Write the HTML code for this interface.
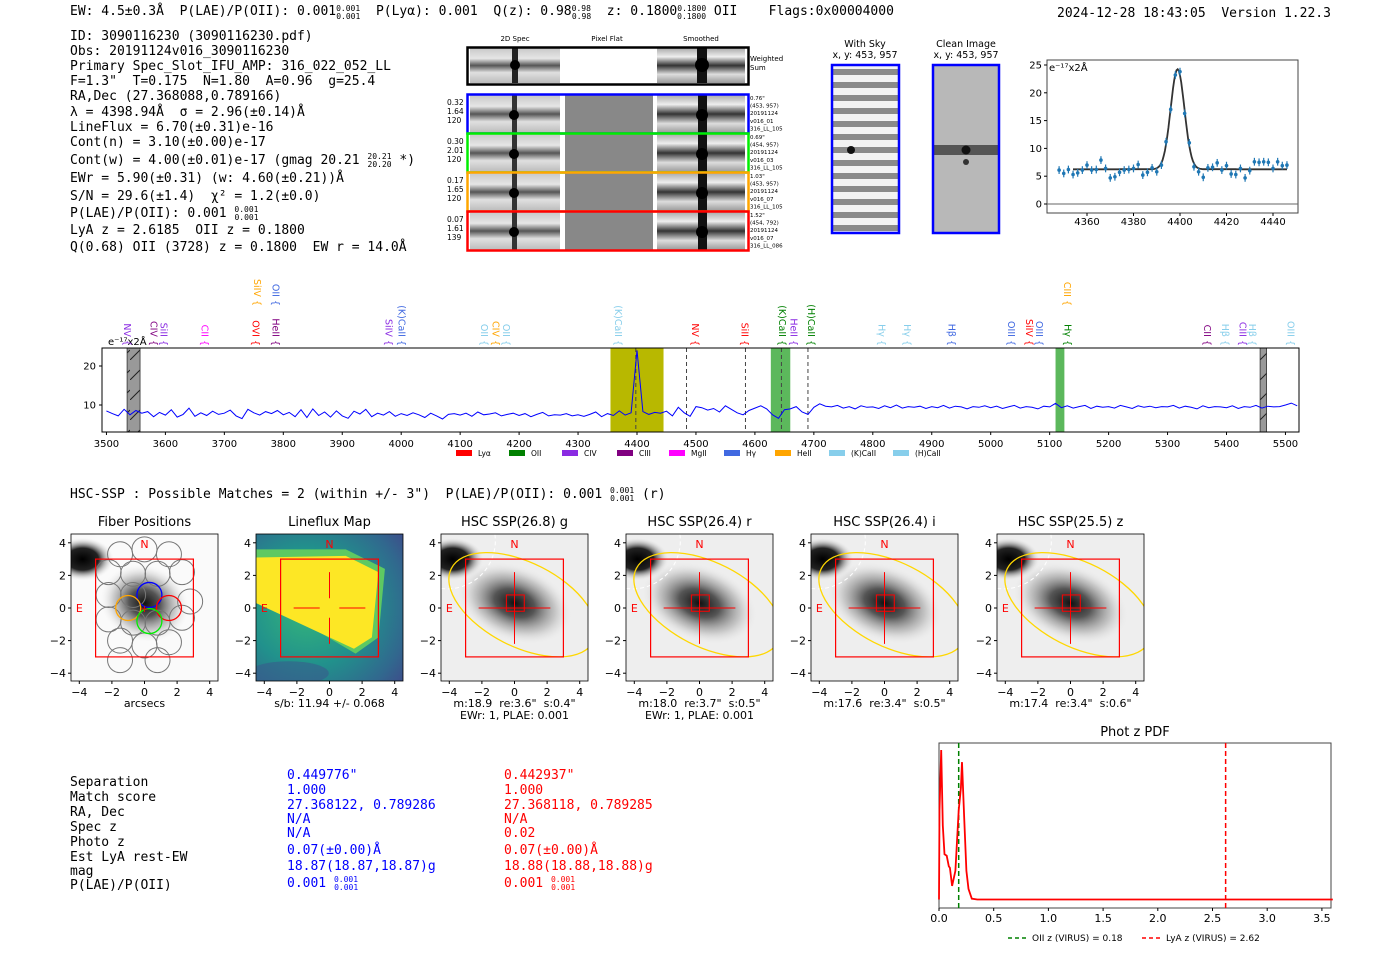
<!DOCTYPE html>
<html><head><meta charset="utf-8"><style>
html,body{margin:0;padding:0;background:#fff;}
svg{display:block;}
text{white-space:pre;}
.m{font-family:"DejaVu Sans Mono","Liberation Mono",monospace;font-size:13px;fill:#000;}
.t{font-family:"DejaVu Sans","Liberation Sans",sans-serif;font-size:10px;fill:#000;}
.s{font-family:"DejaVu Sans","Liberation Sans",sans-serif;font-size:7px;fill:#000;}
.c{font-family:"DejaVu Sans","Liberation Sans",sans-serif;font-size:11px;fill:#000;}
.ti{font-family:"DejaVu Sans","Liberation Sans",sans-serif;font-size:13px;fill:#000;}
</style></head><body>
<svg id="s" width="1400" height="953" viewBox="0 0 1400 953" xmlns="http://www.w3.org/2000/svg" xml:space="preserve">
<defs>
<linearGradient id="band" x1="0" y1="0" x2="0" y2="1">
<stop offset="0" stop-color="#c8c8c8"/><stop offset="0.3" stop-color="#e6e6e6"/><stop offset="0.5" stop-color="#555"/><stop offset="0.7" stop-color="#e0e0e0"/><stop offset="1" stop-color="#bbb"/></linearGradient>
<linearGradient id="bandS" x1="0" y1="0" x2="0" y2="1">
<stop offset="0" stop-color="#aaa"/><stop offset="0.25" stop-color="#eee"/><stop offset="0.5" stop-color="#333"/><stop offset="0.75" stop-color="#ddd"/><stop offset="1" stop-color="#999"/></linearGradient>
<pattern id="sky" width="68" height="13" patternUnits="userSpaceOnUse"><rect width="68" height="13" fill="#f2f2f2"/><rect y="4" width="68" height="6" fill="#8a8a8a"/></pattern>
<radialGradient id="blobA"><stop offset="0" stop-color="#000"/><stop offset="0.5" stop-color="#222"/><stop offset="1" stop-color="#fff" stop-opacity="0"/></radialGradient>
<radialGradient id="blobB"><stop offset="0" stop-color="#111"/><stop offset="0.35" stop-color="#555"/><stop offset="0.7" stop-color="#aaa" stop-opacity="0.6"/><stop offset="1" stop-color="#eee" stop-opacity="0"/></radialGradient>
<radialGradient id="vir" cx="0.35" cy="0.5" r="0.8"><stop offset="0" stop-color="#35b779"/><stop offset="0.5" stop-color="#21918c"/><stop offset="0.85" stop-color="#31688e"/><stop offset="1" stop-color="#3b528b"/></radialGradient>
<pattern id="hatch" width="10" height="20" patternUnits="userSpaceOnUse"><rect width="10" height="20" fill="#999"/><line x1="0" y1="20" x2="10" y2="10" stroke="#222" stroke-width="1"/></pattern>
</defs>

<text class="m" x="70" y="15">EW: 4.5±0.3Å  P(LAE)/P(OII): 0.001<tspan font-size="8" dy="-4">0.001</tspan><tspan font-size="8" dx="-24" dy="8">0.001</tspan><tspan dy="-4">  P(Lyα): 0.001  Q(z): 0.98</tspan><tspan font-size="8" dy="-4">0.98</tspan><tspan font-size="8" dx="-19" dy="8">0.98</tspan><tspan dy="-4">  z: 0.1800</tspan><tspan font-size="8" dy="-4">0.1800</tspan><tspan font-size="8" dx="-29" dy="8">0.1800</tspan><tspan dy="-4"> OII    Flags:0x00004000</tspan></text>
<text class="m" x="1057" y="17">2024-12-28 18:43:05  Version 1.22.3</text>

<g class="m">
<text x="70" y="40">ID: 3090116230 (3090116230.pdf)</text>
<text x="70" y="55">Obs: 20191124v016_3090116230</text>
<text x="70" y="70">Primary Spec_Slot_IFU_AMP: 316_022_052_LL</text>
<text x="70" y="85">F=1.3"  T=0.175  N=1.80  A=0.96  g=25.4</text>
<text x="70" y="100">RA,Dec (27.368088,0.789166)</text>
<text x="70" y="116">λ = 4398.94Å  σ = 2.96(±0.14)Å</text>
<text x="70" y="131">LineFlux = 6.70(±0.31)e-16</text>
<text x="70" y="146">Cont(n) = 3.10(±0.00)e-17</text>
<text x="70" y="164">Cont(w) = 4.00(±0.01)e-17 (gmag 20.21 <tspan font-size="8" dy="-5">20.21</tspan><tspan font-size="8" dx="-24" dy="8">20.20</tspan><tspan dy="-3"> *)</tspan></text>
<text x="70" y="182">EWr = 5.90(±0.31) (w: 4.60(±0.21))Å</text>
<text x="70" y="200">S/N = 29.6(±1.4)  χ² = 1.2(±0.0)</text>
<text x="70" y="217">P(LAE)/P(OII): 0.001 <tspan font-size="8" dy="-5">0.001</tspan><tspan font-size="8" dx="-24" dy="8">0.001</tspan></text>
<text x="70" y="234">LyA z = 2.6185  OII z = 0.1800</text>
<text x="70" y="251">Q(0.68) OII (3728) z = 0.1800  EW r = 14.0Å</text>
</g>

<g>
<text class="s" x="515" y="41" text-anchor="middle">2D Spec</text>
<text class="s" x="607" y="41" text-anchor="middle">Pixel Flat</text>
<text class="s" x="701" y="41" text-anchor="middle">Smoothed</text>
<rect x="470" y="48" width="90" height="35" fill="url(#band)"/>
<rect x="657" y="48" width="88" height="35" fill="url(#bandS)"/>
<rect x="512" y="48" width="6" height="35" fill="#222"/><circle cx="515" cy="65" r="5" fill="#000"/>
<rect x="697" y="48" width="10" height="35" fill="#111"/><circle cx="702" cy="65" r="7" fill="#000"/>
<rect x="467.5" y="47.5" width="281" height="37" fill="none" stroke="#000" stroke-width="2.5"/>
<text class="s" x="750" y="61">Weighted</text><text class="s" x="750" y="70">Sum</text>
<g id="rows2d"></g>
</g>

<g>
<text class="s" x="865" y="47" text-anchor="middle" style="font-size:9.5px">With Sky</text>
<text class="s" x="865" y="58" text-anchor="middle" style="font-size:9.5px">x, y: 453, 957</text>
<rect x="832" y="65" width="67" height="168" fill="url(#sky)"/>
<circle cx="851" cy="150" r="4" fill="#111"/>
<rect x="832" y="65" width="67" height="168" fill="none" stroke="#0000ff" stroke-width="2.5"/>
</g>
<g>
<text class="s" x="966" y="47" text-anchor="middle" style="font-size:9.5px">Clean Image</text>
<text class="s" x="966" y="58" text-anchor="middle" style="font-size:9.5px">x, y: 453, 957</text>
<rect x="933" y="65" width="66" height="168" fill="#b8b8b8"/>
<rect x="933" y="145" width="66" height="10" fill="#555"/>
<circle cx="966" cy="150" r="4.5" fill="#111"/><circle cx="966" cy="162" r="3" fill="#333"/>
<rect x="933" y="65" width="66" height="168" fill="none" stroke="#0000ff" stroke-width="2.5"/>
</g>

<g id="fit"></g>
<g id="spec"></g>

<text class="m" x="70" y="498">HSC-SSP : Possible Matches = 2 (within +/- 3")  P(LAE)/P(OII): 0.001 <tspan font-size="8" dy="-5">0.001</tspan><tspan font-size="8" dx="-24" dy="8">0.001</tspan><tspan dy="-3"> (r)</tspan></text>

<g id="cut"></g>

<g class="m">
<text x="70" y="786">Separation</text><text x="70" y="801">Match score</text><text x="70" y="816">RA, Dec</text><text x="70" y="831">Spec z</text><text x="70" y="846">Photo z</text><text x="70" y="861">Est LyA rest-EW</text><text x="70" y="875">mag</text><text x="70" y="889">P(LAE)/P(OII)</text>
</g>
<g class="m">
<text x="287" y="779" fill="#0000ff" style="fill:#0000ff">0.449776"</text><text x="287" y="794" style="fill:#0000ff">1.000</text><text x="287" y="809" style="fill:#0000ff">27.368122, 0.789286</text><text x="287" y="823" style="fill:#0000ff">N/A</text><text x="287" y="837" style="fill:#0000ff">N/A</text><text x="287" y="854" style="fill:#0000ff">0.07(±0.00)Å</text><text x="287" y="870" style="fill:#0000ff">18.87(18.87,18.87)g</text><text x="287" y="887" style="fill:#0000ff">0.001 <tspan font-size="8" dy="-5">0.001</tspan><tspan font-size="8" dx="-24" dy="8">0.001</tspan></text>
</g>
<g class="m">
<text x="504" y="779" style="fill:#ff0000">0.442937"</text><text x="504" y="794" style="fill:#ff0000">1.000</text><text x="504" y="809" style="fill:#ff0000">27.368118, 0.789285</text><text x="504" y="823" style="fill:#ff0000">N/A</text><text x="504" y="837" style="fill:#ff0000">0.02</text><text x="504" y="854" style="fill:#ff0000">0.07(±0.00)Å</text><text x="504" y="870" style="fill:#ff0000">18.88(18.88,18.88)g</text><text x="504" y="887" style="fill:#ff0000">0.001 <tspan font-size="8" dy="-5">0.001</tspan><tspan font-size="8" dx="-24" dy="8">0.001</tspan></text>
</g>

<g id="pz"></g>
</svg>
<script>
const NS='http://www.w3.org/2000/svg';
function mk(p,tag,a,txt){const e=document.createElementNS(NS,tag);for(const k in a)e.setAttribute(k,a[k]);if(txt!==undefined)e.textContent=txt;p.appendChild(e);return e;}

const fitWave=[4348,4350,4352,4354,4356,4358,4360,4362,4364,4366,4368,4370,4372,4374,4376,4378,4380,4382,4384,4386,4388,4390,4392,4394,4396,4398,4400,4402,4404,4406,4408,4410,4412,4414,4416,4418,4420,4422,4424,4426,4428,4430,4432,4434,4436,4438,4440,4442,4444,4446];
const fitFlux=[6.1,5.5,6.2,5.3,5.6,6.1,7.0,6.1,6.2,7.9,6.4,4.7,4.9,5.7,6.1,6.2,6.4,7.1,5.2,5.7,6.5,5.8,7.0,11.2,17.0,23.2,23.8,16.3,11.0,6.7,5.8,4.8,6.5,6.6,7.4,6.1,6.9,5.4,5.3,6.4,4.7,6.0,7.6,7.5,7.6,7.5,6.4,7.6,6.9,7.0];
const fitTicksX=[4360,4380,4400,4420,4440];
const fitTicksY=[0,5,10,15,20,25];
const fitParams=[4398.94,2.96,18.0,6.25];

const specStart=3500, specStep=10;
const specFlux=[8.5,7.8,7.2,8.9,7.5,8.6,7.9,8.3,7.0,8.1,
7.4,8.8,6.9,7.6,9.2,7.1,8.0,7.3,8.4,7.6,
7.9,8.7,7.2,6.5,8.9,8.0,7.4,8.3,7.8,8.6,
7.5,8.1,7.0,8.8,6.8,9.0,7.3,8.2,6.9,8.5,
7.2,6.6,8.4,7.7,8.9,7.0,7.9,7.4,8.3,7.1,
7.8,7.3,8.0,7.5,6.8,7.9,7.2,6.4,7.6,7.8,
7.4,7.9,7.1,8.2,7.5,7.7,8.0,7.2,7.6,7.9,
7.3,7.8,7.0,7.6,8.1,7.2,7.5,7.4,7.8,7.2,
7.5,7.1,7.6,8.2,7.0,7.8,7.3,8.5,7.4,8.0,
24.0,8.3,7.6,8.1,7.9,8.4,7.2,9.4,8.0,7.1,
9.6,9.3,8.7,9.1,8.2,9.8,8.9,8.0,7.5,8.6,
9.2,9.8,9.0,7.5,6.6,8.8,9.0,9.6,8.2,7.6,
9.4,10.3,9.7,9.5,9.9,9.2,9.6,9.0,9.8,9.4,
9.5,9.1,9.8,9.3,10.0,9.2,9.6,9.4,9.7,9.1,
9.6,9.3,9.9,9.2,9.7,9.5,9.0,9.6,9.4,9.8,
9.3,9.7,9.1,9.5,9.9,9.2,9.6,9.4,9.0,9.7,
9.5,10.4,9.3,9.8,9.2,9.6,9.9,9.1,9.7,9.4,
9.6,9.2,9.9,9.5,9.1,9.8,9.4,9.7,9.3,9.6,
9.5,9.9,9.2,9.7,9.4,9.0,9.8,9.3,9.6,9.5,
9.3,9.8,9.1,9.6,9.4,9.9,9.2,9.7,9.5,9.6,
10.0,10.5,9.8];
const specTicksX=[3500,3600,3700,3800,3900,4000,4100,4200,4300,4400,4500,4600,4700,4800,4900,5000,5100,5200,5300,5400,5500];
const specTicksY=[10,20];
const specDashed=[4398,4484,4584,4645,4690];
const specBandsLo=[4355,4627,5110];
const specBandsHi=[4445,4660,5125];
const specBandColors=['#b8b800','#5cb85c','#5cb85c'];
const specMaskLo=[3535,5457];
const specMaskHi=[3557,5468];
const lineWave=[3525,3570,3587,3656,3743,3777,3968,3990,4130,4150,4168,4358,4488,4572,4636,4655,4685,4805,4848,4923,5024,5055,5072,5120,5357,5387,5417,5433,5498,3745,3777,5119];
const lineName=['NV','CIV','SiII','CII','OVI','HeII','SiIV','(K)CaII','OII','CIV','OII','(K)CaII','NV','SiII','(K)CaII','HeII','(H)CaII','Hγ','Hγ','Hβ','OIII','SiIV','OIII','Hγ','CII','Hβ','CIII','Hβ','OIII','SiIV','OII','CIII'];
const lineColor=['#8a2be2','#800080','#8a2be2','#ff00ff','#ff0000','#800080','#8a2be2','#4169e1','#87ceeb','#ffa500','#87ceeb','#87ceeb','#ff0000','#ff0000','#008000','#8a2be2','#008000','#87ceeb','#87ceeb','#4169e1','#4169e1','#ff0000','#4169e1','#008000','#800080','#87ceeb','#8a2be2','#87ceeb','#87ceeb','#ffa500','#4169e1','#ffa500'];
const lineTier=[0,0,0,0,0,0,0,1,0,0,0,0,0,0,0,0,0,0,0,0,0,0,0,0,0,0,0,0,0,2,2,2];
const legendNames=['Lyα','OII','CIV','CIII','MgII','Hγ','HeII','(K)CaII','(H)CaII'];
const legendColors=['#ff0000','#008000','#8a2be2','#800080','#ff00ff','#4169e1','#ffa500','#87ceeb','#87ceeb'];

const pzZ=[0,0.005,0.02,0.035,0.05,0.07,0.09,0.1,0.12,0.15,0.18,0.2,0.21,0.23,0.25,0.27,0.3,0.35,3.6];
const pzP=[0.01,0.6,1.0,0.5,0.31,0.3,0.23,0.22,0.1,0.2,0.6,0.75,0.92,0.55,0.2,0.08,0.015,0.01,0.01];
const pzTicks=[0,0.5,1.0,1.5,2.0,2.5,3.0,3.5];
const pzOII=0.18, pzLyA=2.62;

const rowVals=[['0.32','1.64','120'],['0.30','2.01','120'],['0.17','1.65','120'],['0.07','1.61','139']];
const rowInfo=[['0.76"','(453, 957)','20191124','v016_01','316_LL_105'],['0.69"','(454, 957)','20191124','v016_03','316_LL_105'],['1.03"','(453, 957)','20191124','v016_07','316_LL_105'],['1.52"','(454, 792)','20191124','v016_07','316_LL_086']];
const rowColors=['#0000ff','#00ee00','#ffa500','#ff0000'];
(function(){
 const g=document.getElementById('rows2d');
 const tops=[95,134,173,212];
 for(let i=0;i<4;i++){
  const y=tops[i],h=38;
  const r1=mk(g,'rect',{x:470,y:y,width:90,height:h,fill:'url(#band)'});
  
  
  mk(g,'rect',{x:512,y:y,width:5,height:h,fill:'#333'});
  mk(g,'circle',{cx:514,cy:y+20,r:5,fill:'#000'});
  const r2=mk(g,'rect',{x:565,y:y,width:88,height:h,fill:'#888'});
  
  
  const r3=mk(g,'rect',{x:657,y:y,width:88,height:h,fill:'url(#bandS)'});
  
  
  mk(g,'rect',{x:698,y:y,width:9,height:h,fill:'#111'});
  mk(g,'circle',{cx:702,cy:y+20,r:6,fill:'#000'});
  const fr=mk(g,'rect',{x:467.5,y:y-0.5,width:281,height:h+1,fill:'none',stroke:rowColors[i],'stroke-width':2.5});
  
  
  rowVals[i].forEach((t,j)=>{mk(g,'text',{class:'s',x:447,y:y+10+j*9,style:'font-size:7.5px'},t);});
  rowInfo[i].forEach((t,j)=>{mk(g,'text',{class:'s',x:750,y:y+5+j*7.6,style:'font-size:5.5px'},t);});
 }
})();

(function(){
 const g=document.getElementById('fit');
 const X0=1047,X1=1298,Y0=60,Y1=213;
 const fx=w=>1087+(w-4360)*2.325, fy=v=>204-v*5.56;
 mk(g,'rect',{x:X0,y:Y0,width:X1-X0,height:Y1-Y0,fill:'#fff',stroke:'#444','stroke-width':1});
 mk(g,'line',{x1:X0,x2:X1,y1:fy(0),y2:fy(0),stroke:'#666','stroke-width':1});
 fitTicksY.forEach(v=>{mk(g,'line',{x1:X0-3,x2:X0,y1:fy(v),y2:fy(v),stroke:'#000'});mk(g,'text',{class:'t',x:X0-5,y:fy(v)+3.5,'text-anchor':'end'},v);});
 fitTicksX.forEach(v=>{mk(g,'line',{x1:fx(v),x2:fx(v),y1:Y1,y2:Y1+3,stroke:'#000'});mk(g,'text',{class:'t',x:fx(v),y:Y1+12,'text-anchor':'middle'},v);});
 mk(g,'text',{class:'t',x:X0+2,y:Y0+11},'e⁻¹⁷x2Å');
 let d='';
 for(let w=fitWave[0]+6;w<=fitWave[fitWave.length-1];w+=0.5){const v=fitParams[3]+fitParams[2]*Math.exp(-0.5*Math.pow((w-fitParams[0])/fitParams[1],2));d+=(d?'L':'M')+fx(w).toFixed(1)+','+fy(v).toFixed(1);}
 const c=mk(g,'path',{d:d,fill:'none',stroke:'#333','stroke-width':1.8});
 
 
 fitWave.forEach((w,i)=>{
  const v=fitFlux[i];
  const e=mk(g,'line',{x1:fx(w),x2:fx(w),y1:fy(v+0.7),y2:fy(v-0.7),stroke:'#1f77b4','stroke-width':1.2});
  
  
  const p=mk(g,'circle',{cx:fx(w),cy:fy(v),r:1.8,fill:'#1f77b4'});
  
  
 });
})();

(function(){
 const g=document.getElementById('spec');
 const X0=102,X1=1299,Y0=348,Y1=432;
 const sx=w=>637+(w-4400)*0.5895, sy=v=>405-(v-10)*3.9;
 mk(g,'rect',{x:X0,y:Y0,width:X1-X0,height:Y1-Y0,fill:'#fff'});
 specBandsLo.forEach((lo,i)=>{const b=mk(g,'rect',{x:sx(lo),y:Y0,width:sx(specBandsHi[i])-sx(lo),height:Y1-Y0,fill:specBandColors[i]});
  
  });
 specMaskLo.forEach((lo,i)=>{const b=mk(g,'rect',{x:sx(lo),y:Y0,width:sx(specMaskHi[i])-sx(lo),height:Y1-Y0,fill:'url(#hatch)',stroke:'#333','stroke-width':0.8});
  
  });
 specDashed.forEach(w=>{const l=mk(g,'line',{x1:sx(w),x2:sx(w),y1:Y0,y2:Y1,stroke:'#444','stroke-width':1,'stroke-dasharray':'4,3'});
  
  });
 let d='';
 specFlux.forEach((v,i)=>{const w=specStart+i*specStep;d+=(d?'L':'M')+sx(w).toFixed(1)+','+sy(v).toFixed(1);});
 const p=mk(g,'path',{d:d,fill:'none',stroke:'#0000ff','stroke-width':1});
 
 
 mk(g,'rect',{x:X0,y:Y0,width:X1-X0,height:Y1-Y0,fill:'none',stroke:'#000','stroke-width':1});
 specTicksX.forEach(w=>{mk(g,'line',{x1:sx(w),x2:sx(w),y1:Y1,y2:Y1+3,stroke:'#000'});mk(g,'text',{class:'t',x:sx(w),y:Y1+15,'text-anchor':'middle'},w);});
 specTicksY.forEach(v=>{mk(g,'line',{x1:X0-3,x2:X0,y1:sy(v),y2:sy(v),stroke:'#000'});mk(g,'text',{class:'t',x:X0-6,y:sy(v)+3.5,'text-anchor':'end'},v);});
 mk(g,'text',{class:'t',x:X0+6,y:Y0-3},'e⁻¹⁷x2Å');
 lineWave.forEach((w,i)=>{
  const ay=[346,346,306][lineTier[i]];
  const x=sx(w)+3;
  const t=mk(g,'text',{class:'t',x:x,y:ay,'text-anchor':'end',transform:'rotate(90 '+x+' '+ay+')',style:'font-size:9.5px;fill:'+lineColor[i]},lineName[i]+' {');
  
  
 });
 const lx=[456,509,562,617,669,724,775,829,893];
 legendNames.forEach((n,i)=>{
  const r=mk(g,'rect',{x:lx[i],y:450,width:16,height:6,fill:legendColors[i]});
  
  
  const t=mk(g,'text',{class:'t',x:lx[i]+22,y:456,style:'font-size:7.5px'},n);
  
  
 });
})();

const cutTitles=['Fiber Positions','Lineflux Map','HSC SSP(26.8) g','HSC SSP(26.4) r','HSC SSP(26.4) i','HSC SSP(25.5) z'];
const cutSub1=['arcsecs','s/b: 11.94 +/- 0.068','m:18.9  re:3.6"  s:0.4"','m:18.0  re:3.7"  s:0.5"','m:17.6  re:3.4"  s:0.5"','m:17.4  re:3.4"  s:0.6"'];
const cutSub2=['','','EWr: 1, PLAE: 0.001','EWr: 1, PLAE: 0.001','',''];
const cutTicks=[-4,-2,0,2,4];
const fiberU=[-1.5,0,1.5,-2.2,-0.7,0.8,2.3,-2.2,-0.7,2.8,-2.2,-0.7,0.8,2.3,-1.5,0,1.5,-1.5,0.8];
const fiberV=[3.3,3.6,3.3,2.2,2.1,2.1,2.2,0.8,0.8,0.4,-0.7,-0.9,-0.9,-0.6,-2.0,-2.3,-2.1,-3.2,-3.2];
const fiberCU=[0.3,-1.0,1.5,0.3];
const fiberCV=[0.8,0.0,0.0,-0.8];
(function(){
 const g=document.getElementById('cut');
 const xs=[71,256,441,626,811,997];
 xs.forEach((x0,k)=>{
  const cx=x0+73.5, cy=608, s=16.3;
  const U=u=>cx+u*s, V=v=>cy-v*s;
  const pg=mk(g,'g',{});
  
  
  const cid='clip'+k;
  const cp=mk(pg,'clipPath',{id:cid});mk(cp,'rect',{x:x0,y:534,width:147,height:147});
  const inner=mk(pg,'g',{'clip-path':'url(#'+cid+')'});
  if(k===1){
   mk(inner,'rect',{x:x0,y:534,width:147,height:147,fill:'url(#vir)'});
   mk(inner,'polygon',{points:[[-4.5,3.6],[1,3.6],[3.4,2.4],[3,-1.8],[1.6,-2.8],[-4.5,0.8]].map(p=>U(p[0])+','+V(p[1])).join(' '),fill:'#5ec962'});
   mk(inner,'polygon',{points:[[-4.5,3.1],[1,3.2],[3,2.2],[2.6,-1.8],[1.5,-2.5],[-4.5,0.3]].map(p=>U(p[0])+','+V(p[1])).join(' '),fill:'#fde725'});
   mk(inner,'ellipse',{cx:U(-2.5),cy:V(-4),rx:40,ry:12,fill:'#3b528b',opacity:0.5});
  } else {
   mk(inner,'rect',{x:x0,y:534,width:147,height:147,fill:k===0?'#fafafa':'#eeeeee'});
   mk(inner,'ellipse',{cx:U(-3.8),cy:V(3),rx:32,ry:22,fill:'url(#blobA)'});
   mk(inner,'ellipse',{cx:U(0),cy:V(0.3),rx:k===0?45:60,ry:38,fill:'url(#blobB)',transform:'rotate(20 '+U(0)+' '+V(0.3)+')'});
  }
  if(k===0){
   fiberU.forEach((u,i)=>{const c=mk(inner,'circle',{cx:U(u),cy:V(fiberV[i]),r:12.5,fill:'none',stroke:'#777','stroke-width':1});
    
    });
   const cc=['#0000ff','#ffa500','#ff0000','#00ee00'];
   fiberCU.forEach((u,i)=>{const c=mk(inner,'circle',{cx:U(u),cy:V(fiberCV[i]),r:12.5,fill:'none',stroke:cc[i],'stroke-width':1.3});
    
    });
  }
  if(k>=2){
   mk(inner,'path',{d:'M'+U(-4.5)+','+V(1.2)+' A48,48 0 0 0 '+U(-1.2)+','+V(4.5),fill:'none',stroke:'#fff','stroke-width':1,'stroke-dasharray':'4,3'});
   const el=mk(inner,'ellipse',{cx:U(0.5),cy:V(0.2),rx:80,ry:42,fill:'none',stroke:'#ffd700','stroke-width':1.3,transform:'rotate(27 '+U(0.5)+' '+V(0.2)+')'});
   
   
   mk(inner,'rect',{x:U(-0.5),y:V(0.8),width:s*1.1,height:s*1.0,fill:'none',stroke:'#ff0000','stroke-width':1});
   mk(inner,'line',{x1:U(-2.2),x2:U(2.2),y1:V(0),y2:V(0),stroke:'#ff0000','stroke-width':1});
   mk(inner,'line',{x1:U(0),x2:U(0),y1:V(2.2),y2:V(-2.2),stroke:'#ff0000','stroke-width':1});
  }
  if(k===1){
   [[-2.2,-0.6],[0.6,2.2]].forEach(a=>{mk(inner,'line',{x1:U(a[0]),x2:U(a[1]),y1:V(0),y2:V(0),stroke:'#ff0000','stroke-width':1});mk(inner,'line',{x1:U(0),x2:U(0),y1:V(-a[0]),y2:V(-a[1]),stroke:'#ff0000','stroke-width':1});});
  }
  if(k===0) mk(inner,'text',{x:U(0),y:V(0)+4,'text-anchor':'middle',style:'fill:#ff0000;font-size:10px;font-family:DejaVu Sans,sans-serif'},'+');
  mk(pg,'rect',{x:U(-3),y:V(3),width:6*s,height:6*s,fill:'none',stroke:'#ff0000','stroke-width':1.2});
  mk(pg,'text',{class:'c',x:U(0),y:V(4)+5,'text-anchor':'middle',style:'fill:#ff0000'},'N');
  mk(pg,'text',{class:'c',x:U(-4),y:V(0)+4,'text-anchor':'middle',style:'fill:#ff0000'},'E');
  mk(pg,'rect',{x:x0,y:534,width:147,height:147,fill:'none',stroke:'#000','stroke-width':0.8});
  cutTicks.forEach(t=>{
   const lab=t<0?'−'+(-t):''+t;
   mk(pg,'line',{x1:U(t),x2:U(t),y1:681,y2:684,stroke:'#000'});
   mk(pg,'text',{class:'c',x:U(t),y:696,'text-anchor':'middle'},lab);
   mk(pg,'line',{x1:x0-3,x2:x0,y1:V(t),y2:V(t),stroke:'#000'});
   mk(pg,'text',{class:'c',x:x0-5,y:V(t)+4,'text-anchor':'end'},lab);
  });
  const tt=mk(pg,'text',{class:'ti',x:U(0),y:526,'text-anchor':'middle'},cutTitles[k]);
  
  
  mk(pg,'text',{class:'c',x:U(0),y:707,'text-anchor':'middle'},cutSub1[k]);
  if(cutSub2[k]) mk(pg,'text',{class:'c',x:U(0),y:719,'text-anchor':'middle'},cutSub2[k]);
 });
})();

(function(){
 const g=document.getElementById('pz');
 const X0=939,X1=1331,Y0=743,Y1=908;
 const px=z=>939+z*109.4, py=p=>901-p*151;
 mk(g,'rect',{x:X0,y:Y0,width:X1-X0,height:Y1-Y0,fill:'#fff',stroke:'#444','stroke-width':1});
 mk(g,'text',{class:'ti',x:(X0+X1)/2,y:736,'text-anchor':'middle'},'Phot z PDF');
 pzTicks.forEach(t=>{mk(g,'line',{x1:px(t),x2:px(t),y1:Y1,y2:Y1+3,stroke:'#000'});mk(g,'text',{class:'c',x:px(t),y:Y1+14,'text-anchor':'middle'},t.toFixed(1));});
 const l1=mk(g,'line',{x1:px(pzOII),x2:px(pzOII),y1:Y0,y2:Y1,stroke:'#008000','stroke-width':1.5,'stroke-dasharray':'5,3'});
 
 
 const l2=mk(g,'line',{x1:px(pzLyA),x2:px(pzLyA),y1:Y0,y2:Y1,stroke:'#ff0000','stroke-width':1.5,'stroke-dasharray':'5,3'});
 
 
 let d='';pzZ.forEach((z,i)=>{d+=(d?'L':'M')+px(z).toFixed(1)+','+py(pzP[i]).toFixed(1);});
 const c=mk(g,'path',{d:d,fill:'none',stroke:'#ff0000','stroke-width':1.8});
 
 
 mk(g,'line',{x1:1008,x2:1026,y1:938,y2:938,stroke:'#008000','stroke-width':1.5,'stroke-dasharray':'4,3'});
 const a=mk(g,'text',{class:'t',x:1032,y:941,style:'font-size:9px'},'OII z (VIRUS) = 0.18');
 
 
 mk(g,'line',{x1:1142,x2:1160,y1:938,y2:938,stroke:'#ff0000','stroke-width':1.5,'stroke-dasharray':'4,3'});
 const b=mk(g,'text',{class:'t',x:1166,y:941,style:'font-size:9px'},'LyA z (VIRUS) = 2.62');
 
 
})();
</script>
</body></html>
